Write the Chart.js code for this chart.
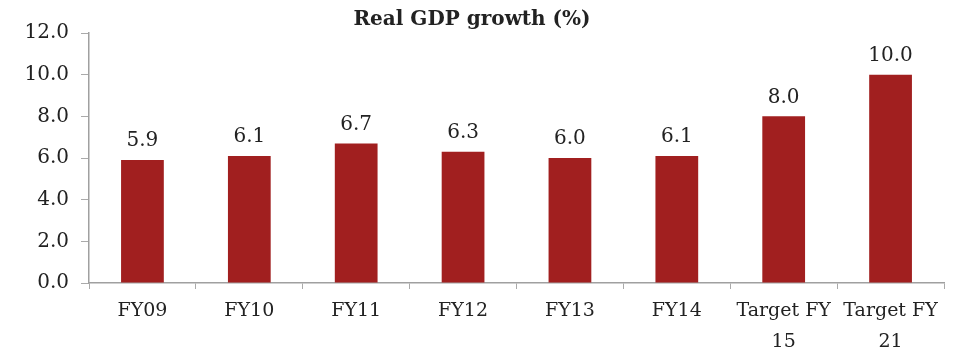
<!DOCTYPE html>
<html><head><meta charset="utf-8">
<script src="https://cdn.jsdelivr.net/npm/chart.js@4/dist/chart.umd.min.js"></script>
<style>html,body{margin:0;padding:0;background:#fff}#wrap{width:956px;height:351px}</style>
</head><body><div id="wrap"><canvas id="c" width="956" height="351"></canvas></div>
<script>
const categories = [["FY09"],["FY10"],["FY11"],["FY12"],["FY13"],["FY14"],["Target FY","15"],["Target FY","21"]];
const gdpGrowth = [5.9, 6.1, 6.7, 6.3, 6.0, 6.1, 8.0, 10.0];
const yTicks = [0, 2, 4, 6, 8, 10, 12];
const titleText = "Real GDP growth (%)";

const FONT = "'DejaVu Serif', 'Liberation Serif', serif";
const labelPlugin = {
  id: 'barLabels',
  afterDatasetsDraw(chart) {
    const ctx = chart.ctx;
    const meta = chart.getDatasetMeta(0);
    ctx.save();
    ctx.font = "20px " + FONT;
    ctx.fillStyle = "#222";
    ctx.textAlign = "center";
    ctx.textBaseline = "bottom";
    meta.data.forEach((bar, i) => {
      ctx.fillText(gdpGrowth[i].toFixed(1), bar.x, bar.y - 9);
    });
    ctx.restore();
  }
};

new Chart(document.getElementById('c'), {
  type: 'bar',
  data: {
    labels: categories,
    datasets: [{
      data: gdpGrowth,
      backgroundColor: '#a11f1f',
      barPercentage: 0.4,
      categoryPercentage: 1.0
    }]
  },
  options: {
    responsive: false,
    animation: false,
    layout: { padding: { left: 0, right: 12, top: 0, bottom: 0 } },
    plugins: {
      legend: { display: false },
      tooltip: { enabled: false },
      title: {
        display: true, text: titleText, color: '#222',
        font: { family: FONT, size: 20, weight: 'bold', lineHeight: 1.2 },
        padding: { top: 8, bottom: 1 }
      }
    },
    scales: {
      x: {
        afterFit(scale) { scale.height = 68; },
        grid: { display: true, drawOnChartArea: false, offset: true, tickLength: 6, color: '#aaa' },
        border: { color: '#a0a0a0', width: 1.5 },
        ticks: { color: '#222', font: { family: FONT, size: 19, lineHeight: 1.65 }, maxRotation: 0, autoSkip: false, padding: 6 }
      },
      y: {
        min: 0, max: 12,
        afterFit(scale) { scale.width = 89; },
        afterBuildTicks(scale) { scale.ticks = yTicks.map(v => ({ value: v })); },
        grid: { display: true, drawOnChartArea: false, tickLength: 8, color: '#aaa' },
        border: { color: '#a0a0a0', width: 1.5 },
        ticks: { color: '#222', font: { family: FONT, size: 20 }, padding: 12,
                 callback: v => Number(v).toFixed(1) }
      }
    }
  },
  plugins: [labelPlugin]
});
</script></body></html>
